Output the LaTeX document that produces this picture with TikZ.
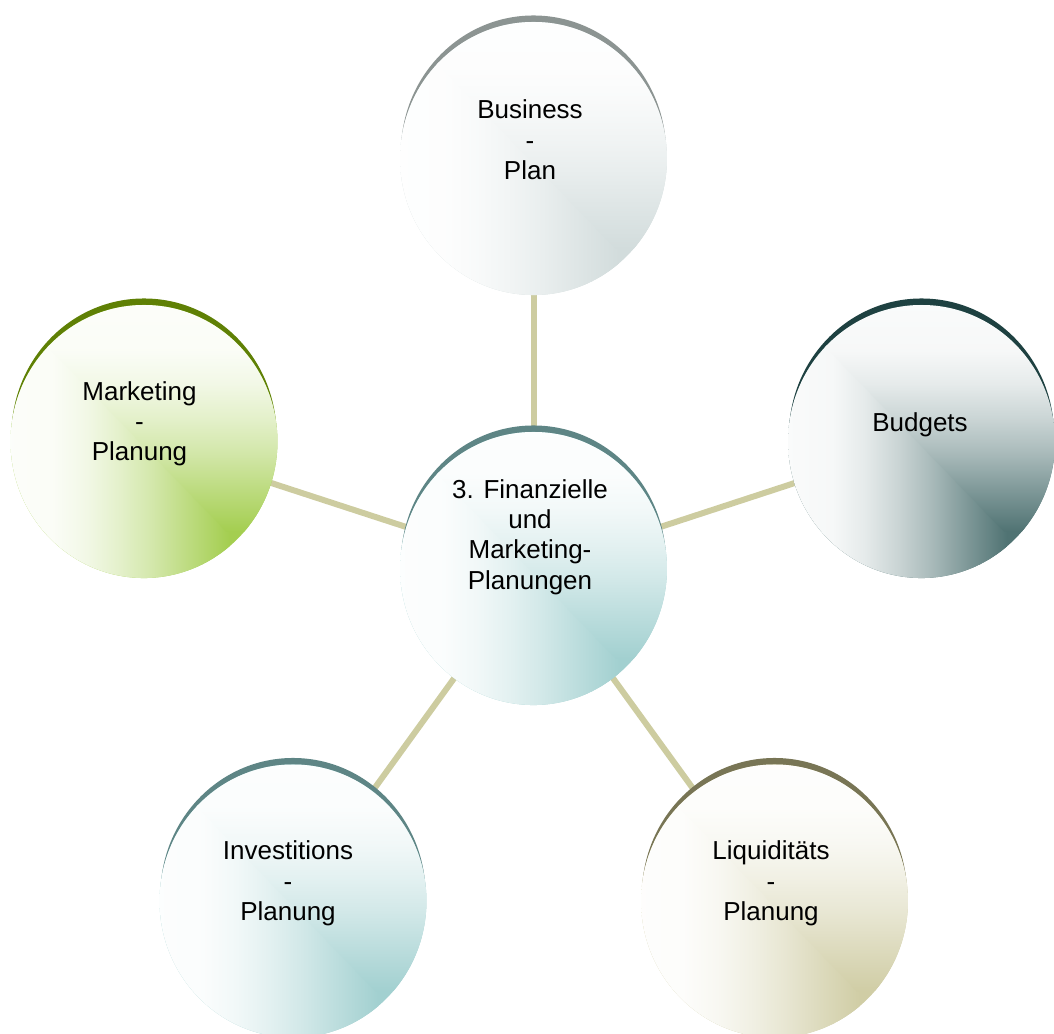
\documentclass[tikz,border=0pt]{standalone}
\usepackage{fontspec}
\setmainfont{Liberation Sans}
\usetikzlibrary{calc,shapes.geometric}

\definecolor{ctrcol}{HTML}{A2D0D0}
\definecolor{ctrarc}{HTML}{5E8585}
\definecolor{topcol}{HTML}{D2DCDC}
\definecolor{toparc}{HTML}{8C9492}
\definecolor{budcol}{HTML}{507373}
\definecolor{budarc}{HTML}{1E4141}
\definecolor{mktcol}{HTML}{A4CE50}
\definecolor{mktarc}{HTML}{5F8005}
\definecolor{liqcol}{HTML}{D0CDA5}
\definecolor{liqarc}{HTML}{787555}
\definecolor{conncol}{HTML}{CDCCA0}

\pgfdeclarelayer{connlayer}
\pgfdeclarelayer{bubblelayer}
\pgfsetlayers{connlayer,bubblelayer,main}

\colorlet{bubcol}{black}
\colorlet{bubstart}{white}
\pgfdeclarehorizontalshading[bubcol,bubstart]{hbub}{100bp}{color(0bp)=(bubstart); color(25bp)=(bubstart);
  color(35bp)=(bubcol!2!bubstart); color(42.5bp)=(bubcol!12!bubstart); color(50bp)=(bubcol!28!bubstart);
  color(57.5bp)=(bubcol!47!bubstart); color(65bp)=(bubcol!70!bubstart); color(75bp)=(bubcol); color(100bp)=(bubcol)}
\pgfdeclareverticalshading[bubcol,bubstart]{vbub}{100bp}{color(0bp)=(bubcol); color(25bp)=(bubcol);
  color(35bp)=(bubcol!70!bubstart); color(42.5bp)=(bubcol!47!bubstart); color(50bp)=(bubcol!28!bubstart);
  color(57.5bp)=(bubcol!12!bubstart); color(65bp)=(bubcol!2!bubstart); color(75bp)=(bubstart); color(100bp)=(bubstart)}

\newcommand\drawbubble[3]{%
  \begin{pgfonlayer}{bubblelayer}
    \fill[#3] ($(#1.center)+(0,-6.5)$) ellipse [x radius=99.4pt, y radius=102.4pt];
    \colorlet{bubcol}{#2}\colorlet{bubstart}{#2!3!white}
    \begin{scope}
      \clip (#1.center) ellipse [x radius=100.1pt, y radius=102.4pt];
      \fill[bubcol] ($(#1.center)+(-135,-138)$) rectangle ($(#1.center)+(135,138)$);
      \shade[shading=hbub] ($(#1.center)+(-133.5,-136.5)$) -- ($(#1.center)+(-133.5,136.5)$)
        -- ($(#1.center)+(85.4,136.5)$) -- ($(#1.center)+(85.4,90.1)$) -- cycle;
      \shade[shading=vbub] ($(#1.center)+(-136.5,-136.5)$) -- ($(#1.center)+(135,-136.5)$)
        -- ($(#1.center)+(135,90.1)$) -- ($(#1.center)+(82.4,90.1)$) -- cycle;
    \end{scope}
  \end{pgfonlayer}}

\tikzset{
  bubble/.style={ellipse, inner sep=0pt, minimum width=200.25pt, minimum height=204.75pt},
  txt/.style={align=center, inner sep=0pt, font=\fontsize{19.5pt}{22.7pt}\selectfont, text=black},
  conn/.style={draw=conncol, line width=4.5pt, shorten <=-3pt, shorten >=-3pt}
}

\begin{document}
\begin{tikzpicture}[x=0.75pt, y=-0.75pt]
  \useasboundingbox (0,0) rectangle (1054,1033);
  \clip (0,0) rectangle (1054,1033);

  % bubble nodes (shapes drawn below)
  \node[bubble] (ctr) at (533.5,568.5) {};
  \node[bubble] (top) at (533.5,158.5) {};
  \node[bubble] (rgt) at (921.5,441.5) {};
  \node[bubble] (lft) at (144,441.5) {};
  \node[bubble] (bl)  at (293,901) {};
  \node[bubble] (br)  at (774.5,901) {};

  % connectors
  \begin{pgfonlayer}{connlayer}
    \draw[conn] (ctr) -- (top);
    \draw[conn] (ctr) -- (rgt);
    \draw[conn] (ctr) -- (lft);
    \draw[conn] (ctr) -- (bl);
    \draw[conn] (ctr) -- (br);
  \end{pgfonlayer}

  % bubbles
  \drawbubble{ctr}{ctrcol}{ctrarc}
  \drawbubble{top}{topcol}{toparc}
  \drawbubble{rgt}{budcol}{budarc}
  \drawbubble{lft}{mktcol}{mktarc}
  \drawbubble{bl}{ctrcol}{ctrarc}
  \drawbubble{br}{liqcol}{liqarc}

  % texts
  \node[txt] (tctr) at (530,537) {3. Finanzielle\\und\\Marketing-\\Planungen};
  \node[txt] (ttop) at (530,139.7) {Business\\-\\Plan};
  \node[txt] (trgt) at (920,425) {Budgets};
  \node[txt] (tlft) at (139.5,424) {Marketing\\-\\Planung};
  \node[txt] (tbl)  at (288,883.5) {Investitions\\-\\Planung};
  \node[txt] (tbr)  at (771,883.5) {Liquiditäts\\-\\Planung};
\end{tikzpicture}
\end{document}
